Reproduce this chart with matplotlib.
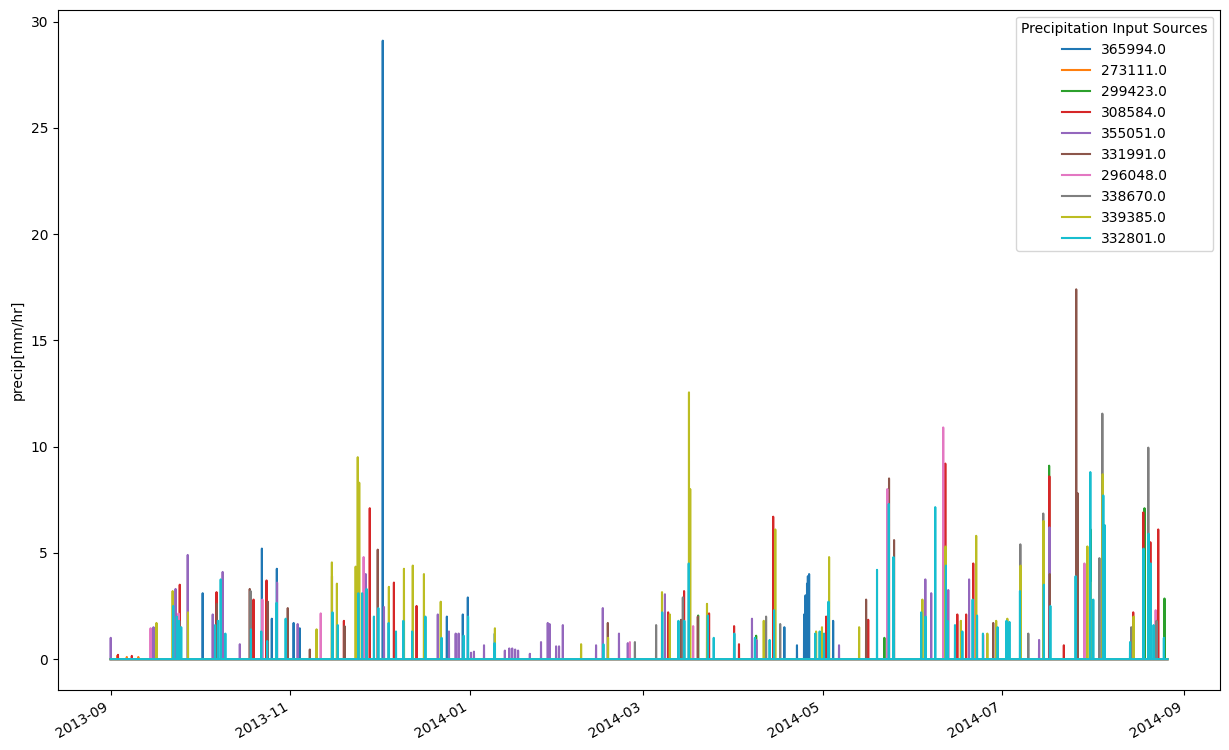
import numpy as np
import pandas as pd
import matplotlib
matplotlib.use("Agg")
import matplotlib.pyplot as plt

# gauge ids (legend order)
gauges = ["365994.0", "273111.0", "299423.0", "308584.0", "355051.0",
          "331991.0", "296048.0", "338670.0", "339385.0", "332801.0"]

# hourly peaks: (time, mm/hr), zero elsewhere
p365994 = [("2013-10-02 07:00", 3.1), ("2013-10-22 10:00", 5.2), ("2013-10-25 19:00", 1.9),
           ("2013-10-27 12:00", 4.25), ("2013-11-02 05:00", 1.7), ("2013-11-04 07:00", 1.45),
           ("2013-12-02 12:00", 29.1), ("2013-12-24 07:00", 2.0), ("2013-12-29 17:00", 2.1),
           ("2013-12-31 10:00", 2.9), ("2014-01-09 14:00", 1.2), ("2014-04-18 00:00", 1.5),
           ("2014-04-22 07:00", 0.65), ("2014-04-24 17:00", 2.1), ("2014-04-25 05:00", 3.0),
           ("2014-04-25 17:00", 3.55), ("2014-04-26 00:00", 3.9), ("2014-04-26 10:00", 4.0),
           ("2014-05-04 14:00", 1.8)]
p273111 = [("2013-09-03 05:00", 0.15), ("2013-09-06 12:00", 0.1), ("2013-09-10 10:00", 0.1)]
p299423 = [("2014-03-19 17:00", 2.05), ("2014-04-08 10:00", 1.1), ("2014-05-22 00:00", 1.0),
           ("2014-07-17 00:00", 9.1), ("2014-07-31 02:00", 6.1), ("2014-08-18 10:00", 7.1),
           ("2014-08-25 05:00", 2.85)]
p308584 = [("2013-09-03 12:00", 0.2), ("2013-09-08 05:00", 0.15), ("2013-09-24 12:00", 3.5),
           ("2013-10-07 00:00", 3.15), ("2013-10-19 14:00", 2.8), ("2013-10-24 00:00", 3.7),
           ("2013-11-19 07:00", 1.8), ("2013-11-28 02:00", 7.1), ("2013-12-06 07:00", 3.6),
           ("2013-12-14 00:00", 2.5), ("2014-03-09 12:00", 2.2), ("2014-03-14 22:00", 3.2),
           ("2014-03-23 10:00", 2.15), ("2014-03-31 22:00", 1.55), ("2014-04-02 14:00", 0.7),
           ("2014-04-14 05:00", 6.7), ("2014-05-02 05:00", 2.0), ("2014-05-16 12:00", 1.85),
           ("2014-06-11 17:00", 9.2), ("2014-06-15 19:00", 2.1), ("2014-06-18 19:00", 2.1),
           ("2014-06-21 05:00", 4.5), ("2014-07-17 02:00", 8.6), ("2014-07-22 00:00", 0.65),
           ("2014-08-14 14:00", 2.2), ("2014-08-18 00:00", 6.9), ("2014-08-20 10:00", 5.5),
           ("2014-08-23 02:00", 6.1)]
p355051 = [("2013-09-01 01:00", 1.0), ("2013-09-15 14:00", 1.5), ("2013-09-23 02:00", 3.3),
           ("2013-09-27 05:00", 4.9), ("2013-10-05 17:00", 2.1), ("2013-10-09 02:00", 4.1),
           ("2013-10-14 22:00", 0.7), ("2013-10-27 14:00", 3.6), ("2013-11-03 14:00", 1.65),
           ("2013-11-26 17:00", 4.0), ("2013-12-02 22:00", 2.45), ("2013-12-21 05:00", 2.1),
           ("2013-12-25 00:00", 1.3), ("2013-12-27 07:00", 1.2), ("2013-12-28 07:00", 1.2),
           ("2014-01-01 12:00", 0.3), ("2014-01-02 12:00", 0.35), ("2014-01-05 22:00", 0.65),
           ("2014-01-13 00:00", 0.4), ("2014-01-14 12:00", 0.5), ("2014-01-15 12:00", 0.5),
           ("2014-01-16 12:00", 0.45), ("2014-01-17 12:00", 0.4), ("2014-01-21 12:00", 0.25),
           ("2014-01-25 07:00", 0.8), ("2014-01-27 14:00", 1.7), ("2014-01-28 05:00", 1.65),
           ("2014-01-30 10:00", 0.6), ("2014-01-31 10:00", 0.6), ("2014-02-01 17:00", 1.6),
           ("2014-02-13 00:00", 0.65), ("2014-02-15 07:00", 2.4), ("2014-02-20 19:00", 1.2),
           ("2014-02-23 19:00", 0.75), ("2014-03-08 10:00", 3.05), ("2014-04-07 00:00", 1.9),
           ("2014-04-08 12:00", 0.9), ("2014-05-06 14:00", 0.65), ("2014-06-04 22:00", 3.75),
           ("2014-06-06 22:00", 3.1), ("2014-06-12 17:00", 3.25), ("2014-06-19 19:00", 3.75),
           ("2014-07-13 14:00", 0.9), ("2014-07-17 03:00", 6.2)]
p331991 = [("2013-10-07 02:00", 2.6), ("2013-10-18 07:00", 3.3), ("2013-10-24 10:00", 2.7),
           ("2013-10-31 05:00", 2.4), ("2013-11-07 17:00", 0.45), ("2013-11-15 06:00", 3.9),
           ("2013-11-19 12:00", 1.55), ("2013-11-30 19:00", 5.15), ("2014-02-17 00:00", 1.7),
           ("2014-03-13 22:00", 1.85), ("2014-03-16 16:00", 4.8), ("2014-03-19 14:00", 2.0),
           ("2014-05-15 19:00", 2.8), ("2014-05-23 14:00", 8.5), ("2014-05-25 07:00", 5.6),
           ("2014-06-28 00:00", 1.7), ("2014-07-17 05:00", 4.0), ("2014-07-26 05:00", 17.4),
           ("2014-07-26 17:00", 7.8)]
p296048 = [("2013-09-14 14:00", 1.45), ("2013-09-24 02:00", 2.15), ("2013-10-22 14:00", 2.8),
           ("2013-11-11 10:00", 2.15), ("2013-11-26 00:00", 4.8), ("2014-02-24 12:00", 0.8),
           ("2014-03-18 00:00", 1.55), ("2014-05-23 00:00", 8.0), ("2014-06-11 00:00", 10.9),
           ("2014-06-24 14:00", 1.15), ("2014-07-29 00:00", 4.5), ("2014-08-14 00:00", 0.9),
           ("2014-08-22 05:00", 2.3)]
p338670 = [("2013-10-18 14:00", 3.2), ("2014-02-26 05:00", 0.8), ("2014-03-05 10:00", 1.6),
           ("2014-03-14 12:00", 2.9), ("2014-04-11 19:00", 2.0), ("2014-04-16 14:00", 1.65),
           ("2014-07-07 05:00", 5.4), ("2014-07-09 22:00", 1.2), ("2014-07-15 00:00", 6.85),
           ("2014-08-03 02:00", 4.75), ("2014-08-04 02:00", 11.55), ("2014-08-13 22:00", 1.5),
           ("2014-08-19 17:00", 9.95), ("2014-08-22 12:00", 1.8)]
p339385 = [("2013-09-16 14:00", 1.7), ("2013-09-22 02:00", 3.2), ("2013-09-27 07:00", 2.2),
           ("2013-11-10 00:00", 1.4), ("2013-11-15 05:00", 4.55), ("2013-11-16 22:00", 3.55),
           ("2013-11-23 07:00", 4.35), ("2013-11-24 00:00", 9.5), ("2013-11-24 12:00", 8.3),
           ("2013-12-04 14:00", 3.4), ("2013-12-09 17:00", 4.25), ("2013-12-12 17:00", 4.4),
           ("2013-12-16 12:00", 4.0), ("2013-12-22 05:00", 2.7), ("2014-01-09 15:00", 1.45),
           ("2014-02-07 22:00", 0.7), ("2014-02-17 02:00", 1.0), ("2014-03-07 10:00", 3.15),
           ("2014-03-10 02:00", 2.1), ("2014-03-16 14:00", 12.55), ("2014-03-17 00:00", 8.0),
           ("2014-03-22 17:00", 2.6), ("2014-04-11 00:00", 1.8), ("2014-04-14 22:00", 6.1),
           ("2014-04-28 19:00", 1.3), ("2014-04-30 19:00", 1.5), ("2014-05-03 05:00", 4.8),
           ("2014-05-13 10:00", 1.5), ("2014-06-03 22:00", 2.8), ("2014-06-11 19:00", 5.3),
           ("2014-06-17 00:00", 1.8), ("2014-06-22 05:00", 5.8), ("2014-06-26 00:00", 1.2),
           ("2014-06-29 00:00", 1.8), ("2014-07-02 19:00", 1.9), ("2014-07-07 07:00", 4.4),
           ("2014-07-15 02:00", 6.5), ("2014-07-30 00:00", 5.3), ("2014-07-31 05:00", 3.6),
           ("2014-08-04 05:00", 8.7), ("2014-08-14 17:00", 2.0)]
p332801 = [("2013-09-22 07:00", 2.5), ("2013-09-23 12:00", 2.0), ("2013-09-24 07:00", 1.8),
           ("2013-09-25 00:00", 1.5), ("2013-10-06 12:00", 1.6), ("2013-10-07 12:00", 1.8),
           ("2013-10-08 10:00", 3.75), ("2013-10-10 00:00", 1.2), ("2013-10-18 17:00", 1.4),
           ("2013-10-22 05:00", 1.3), ("2013-10-24 05:00", 0.85), ("2013-10-27 10:00", 2.65),
           ("2013-10-30 12:00", 1.9), ("2013-11-15 10:00", 2.2), ("2013-11-17 05:00", 1.6),
           ("2013-11-24 05:00", 3.1), ("2013-11-25 12:00", 3.1), ("2013-11-27 00:00", 3.3),
           ("2013-11-29 12:00", 2.0), ("2013-12-01 00:00", 2.4), ("2013-12-04 12:00", 1.7),
           ("2013-12-07 00:00", 1.3), ("2013-12-09 12:00", 1.8), ("2013-12-12 12:00", 1.3),
           ("2013-12-17 00:00", 2.0), ("2013-12-22 12:00", 1.0), ("2013-12-30 00:00", 1.1),
           ("2013-12-31 12:00", 2.0), ("2014-01-09 12:00", 0.75), ("2014-02-15 12:00", 0.7),
           ("2014-03-07 12:00", 2.2), ("2014-03-13 00:00", 1.8), ("2014-03-15 00:00", 1.8),
           ("2014-03-16 12:00", 4.5), ("2014-03-23 00:00", 2.05), ("2014-03-25 00:00", 1.0),
           ("2014-04-01 00:00", 1.2), ("2014-04-08 00:00", 1.0), ("2014-04-13 00:00", 0.9),
           ("2014-04-14 12:00", 2.3), ("2014-04-28 12:00", 1.2), ("2014-04-30 00:00", 1.3),
           ("2014-05-01 12:00", 1.2), ("2014-05-03 00:00", 2.7), ("2014-05-19 12:00", 4.2),
           ("2014-05-23 12:00", 7.3), ("2014-05-25 02:00", 4.8), ("2014-06-03 12:00", 2.2),
           ("2014-06-05 00:00", 2.0), ("2014-06-08 07:00", 7.15), ("2014-06-11 22:00", 4.4),
           ("2014-06-12 12:00", 1.8), ("2014-06-15 00:00", 1.6), ("2014-06-17 12:00", 1.3),
           ("2014-06-21 00:00", 2.8), ("2014-06-22 12:00", 2.05), ("2014-06-24 12:00", 1.2),
           ("2014-06-29 12:00", 1.5), ("2014-07-02 12:00", 1.8), ("2014-07-03 12:00", 1.75),
           ("2014-07-07 02:00", 3.2), ("2014-07-15 05:00", 3.5), ("2014-07-17 10:00", 2.5),
           ("2014-07-26 00:00", 3.9), ("2014-07-31 00:00", 8.8), ("2014-08-01 00:00", 2.8),
           ("2014-08-04 10:00", 7.7), ("2014-08-04 22:00", 6.3), ("2014-08-13 12:00", 0.8),
           ("2014-08-18 02:00", 5.2), ("2014-08-19 19:00", 5.9), ("2014-08-20 12:00", 4.5),
           ("2014-08-21 12:00", 1.6), ("2014-08-25 00:00", 1.0)]

peaks = [p365994, p273111, p299423, p308584, p355051,
         p331991, p296048, p338670, p339385, p332801]

hours = pd.date_range("2013-09-01 00:00", "2014-08-26 06:00", freq="h")
df = pd.DataFrame(0.0, index=hours, columns=gauges)
for g, ev in zip(gauges, peaks):
    for t, v in ev:
        df.loc[pd.Timestamp(t), g] = v

fig, ax = plt.subplots(figsize=(12.29, 7.5), dpi=100)
for g in gauges:
    ax.plot(df.index, df[g], label=g)
ax.set_ylabel("precip[mm/hr]")
ax.legend(title="Precipitation Input Sources", loc="upper right")
fig.autofmt_xdate(bottom=0.08)
fig.subplots_adjust(left=0.047, right=0.993, top=0.987, bottom=0.08)
fig.savefig("out.png", dpi=100)
